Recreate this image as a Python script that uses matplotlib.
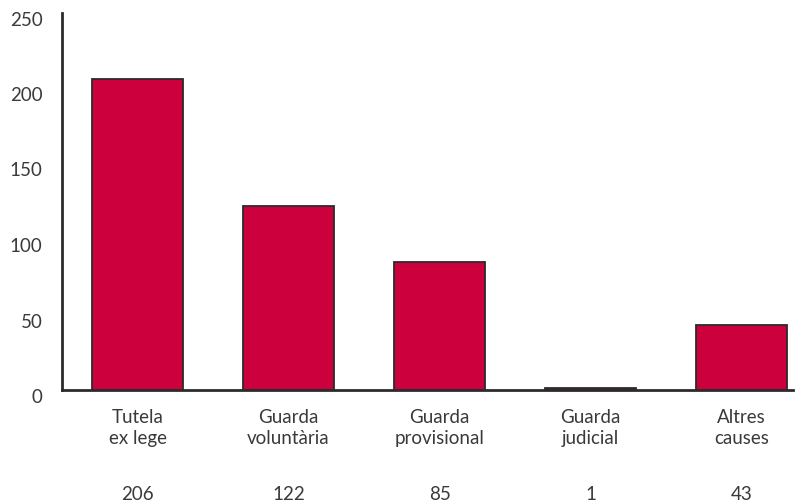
import matplotlib
matplotlib.use('Agg')
import matplotlib.pyplot as plt
from matplotlib.transforms import ScaledTranslation

# Data
categories = ['Tutela\nex lege', 'Guarda\nvoluntària', 'Guarda\nprovisional', 'Guarda\njudicial', 'Altres\ncauses']
values = [206, 122, 85, 1, 43]
yticks = [0, 50, 100, 150, 200, 250]

BAR_COLOR = '#CC003D'
EDGE_COLOR = '#2b2b2b'
TEXT_COLOR = '#3a3a3a'

plt.rcParams['font.family'] = ['Lato', 'DejaVu Sans']

fig = plt.figure(figsize=(8.05, 5.04), dpi=100)
W, H = 805, 504
ax = fig.add_axes([62 / W, (H - 390) / H, (793 - 62) / W, (390 - 12.5) / H])

x = list(range(len(categories)))
ax.bar(x, values, width=0.6, color=BAR_COLOR, edgecolor=EDGE_COLOR, linewidth=1.3)

ax.set_xlim(-0.5, 4.34)
ax.set_ylim(0, 250)
ax.set_yticks(yticks)
ax.set_yticklabels([str(v) for v in yticks], fontsize=13.5, color=TEXT_COLOR)
ax.tick_params(axis='y', length=0, pad=14)
ax.tick_params(axis='x', length=0)
ax.set_xticks([])

# shift y tick labels slightly down like the reference
for lbl in ax.get_yticklabels():
    lbl.set_transform(lbl.get_transform() + ScaledTranslation(0, -6 / 100, fig.dpi_scale_trans))

for s in ['top', 'right']:
    ax.spines[s].set_visible(False)
for s in ['left', 'bottom']:
    ax.spines[s].set_color(EDGE_COLOR)
    ax.spines[s].set_linewidth(2)

# category labels and values below the axis
for xi, cat, v in zip(x, categories, values):
    ax.annotate(cat, xy=(xi, 0), xycoords=('data', 'axes fraction'),
                xytext=(0, -38 * 72 / 100), textcoords='offset points',
                ha='center', va='center', fontsize=13.5, color=TEXT_COLOR,
                linespacing=1.35, annotation_clip=False)
    ax.annotate(str(v), xy=(xi, 0), xycoords=('data', 'axes fraction'),
                xytext=(0, -104 * 72 / 100), textcoords='offset points',
                ha='center', va='center', fontsize=13.5, color=TEXT_COLOR,
                annotation_clip=False)

fig.savefig('out.png', dpi=100)
